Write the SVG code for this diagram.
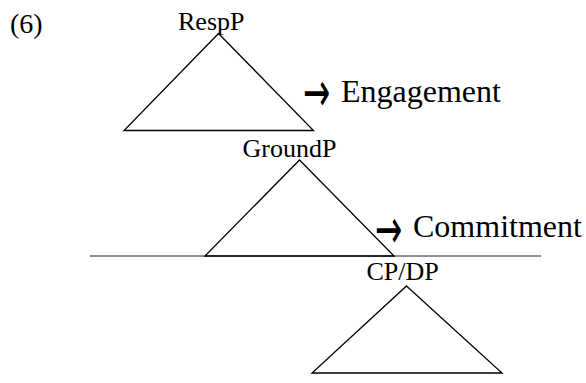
<svg xmlns="http://www.w3.org/2000/svg" width="586" height="383" viewBox="0 0 586 383">
  <style>
    .lbl { font-family: "Liberation Serif", "Times New Roman", serif; font-size: 26px; fill: #000; }
    .big { font-family: "Liberation Serif", "Times New Roman", serif; font-size: 32px; fill: #000; }
    .arr { font-family: "DejaVu Sans", sans-serif; font-size: 31px; fill: #000; }
    .tri { fill: none; stroke: #000; stroke-width: 1.3; stroke-linejoin: miter; }
    .rule { stroke: #222; stroke-width: 1.2; fill: none; }
  </style>
  <rect width="586" height="383" fill="#fff"/>

  <text class="lbl" x="10" y="33" style="font-size:28px">(6)</text>

  <g id="connectors">
    <line class="rule" x1="90" y1="256" x2="541" y2="256"/>
  </g>

  <g id="RespP">
    <text class="lbl" x="178" y="30">RespP</text>
    <path class="tri" d="M218.5,33.5 L313.5,130.5 L124,130.5 Z"/>
  </g>

  <g id="Engagement">
    <text class="arr" transform="translate(303,110.5) scale(1.05,1.8)">→</text>
    <text class="big" x="341" y="102">Engagement</text>
  </g>

  <g id="GroundP">
    <text class="lbl" x="242.5" y="156.5">GroundP</text>
    <path class="tri" d="M299.5,160 L394,256 L205,256 Z"/>
  </g>

  <g id="Commitment">
    <text class="arr" transform="translate(375,247.5) scale(1.05,1.8)">→</text>
    <text class="big" x="413" y="237">Commitment</text>
  </g>

  <g id="CPDP">
    <text class="lbl" x="366.5" y="280">CP/DP</text>
    <path class="tri" d="M406.5,286 L502,373 L312,373 Z"/>
  </g>
</svg>
